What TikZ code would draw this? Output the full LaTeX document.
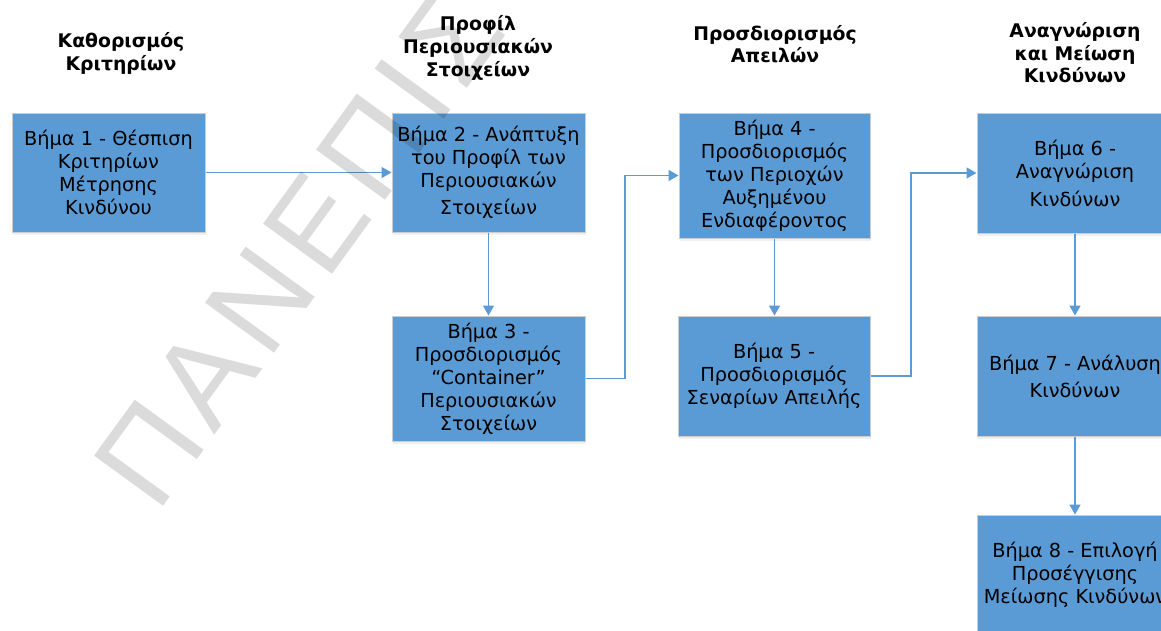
\documentclass[tikz,border=0pt]{standalone}
\usepackage{fontspec}
\setmainfont{DejaVu Sans}
\newfontfamily\wmfont[LetterSpace=7]{Liberation Sans}
\usetikzlibrary{arrows.meta,shadows}
\definecolor{boxblue}{HTML}{5B9BD5}
\definecolor{boxline}{HTML}{C9CDD2}
\begin{document}
\begin{tikzpicture}[x=1pt,y=-1pt,
  stepbox/.style={draw=boxline, line width=1pt, fill=boxblue,
    minimum width=193pt, minimum height=119pt, inner sep=2pt, align=center,
    font=\fontsize{19.3}{23}\selectfont, text=black,
    drop shadow={opacity=0.12, shadow xshift=1pt, shadow yshift=-3pt}},
  head/.style={anchor=base, inner sep=0pt, font=\fontsize{18.8}{23}\selectfont\bfseries, text=black},
  flow/.style={draw=boxblue, line width=1.5pt, -{Triangle[length=10pt,width=11pt]}},
  wm/.style={inner sep=0pt, text=black, opacity=0.14,
    font=\fontsize{124}{130}\wmfont}]
\useasboundingbox (0,0) rectangle (1161,630);
\clip (0,0) rectangle (1161,630);
\fill[white] (0,0) rectangle (1161,630);

% headers
\node[head] (h1a) at (121,47) {Καθορισμός};
\node[head] (h1b) at (121,70) {Κριτηρίων};
\node[head] (h2a) at (478,30) {Προφίλ};
\node[head] (h2b) at (478,53) {Περιουσιακών};
\node[head] (h2c) at (478,76) {Στοιχείων};
\node[head] (h3a) at (775,40) {Προσδιορισμός};
\node[head] (h3b) at (775,62) {Απειλών};
\node[head] (h4a) at (1075,37) {Αναγνώριση};
\node[head] (h4b) at (1075,60) {και Μείωση};
\node[head] (h4c) at (1075,82) {Κινδύνων};

% boxes
\node[stepbox] (b1) at (108.5,172.5) {Βήμα 1 - Θέσπιση\\Κριτηρίων\\Μέτρησης\\Κινδύνου};
\node[stepbox] (b2) at (488.5,172.5) {Βήμα 2 - Ανάπτυξη\\του Προφίλ των\\Περιουσιακών\\[4pt]Στοιχείων};
\node[stepbox, minimum height=125pt] (b3) at (488.5,378.5) {Βήμα 3 -\\Προσδιορισμός\\“Container”\\Περιουσιακών\\Στοιχείων};
\node[stepbox, minimum width=191pt, minimum height=125pt] (b4) at (774.5,175.5) {Βήμα 4 -\\Προσδιορισμός\\των Περιοχών\\Αυξημένου\\Ενδιαφέροντος};
\node[stepbox, minimum width=192pt, minimum height=120pt] (b5) at (774,376) {Βήμα 5 -\\Προσδιορισμός\\Σεναρίων Απειλής};
\node[stepbox, minimum width=196pt, minimum height=120pt] (b6) at (1075,173) {Βήμα 6 -\\Αναγνώριση\\[5pt]Κινδύνων};
\node[stepbox, minimum width=196pt, minimum height=120pt] (b7) at (1075,376) {Βήμα 7 - Ανάλυση\\[4pt]Κινδύνων};
\node[stepbox, minimum width=196pt, minimum height=120pt] (b8) at (1075,575) {Βήμα 8 - Επιλογή\\Προσέγγισης\\Μείωσης Κινδύνων};

% connectors
\coordinate (k1) at (625,0);
\coordinate (k2) at (911,0);
\draw[flow] (b1.east) -- (b2.west);
\draw[flow] (b2.south) -- (b3.north);
\draw[flow] (b3.east) -- (b3.east -| k1) |- (b4.west);
\draw[flow] (b4.south) -- (b4.south |- b5.north);
\draw[flow] (b5.east) -- (b5.east -| k2) |- (b6.west);
\draw[flow] (b6.south) -- (b7.north);
\draw[flow] (b7.south) -- (b8.north);

% watermark
\node[wm, rotate=54, anchor=base west] (wm) at (157,515) {ΠΑΝΕΠΙΣ};
\end{tikzpicture}
\end{document}
